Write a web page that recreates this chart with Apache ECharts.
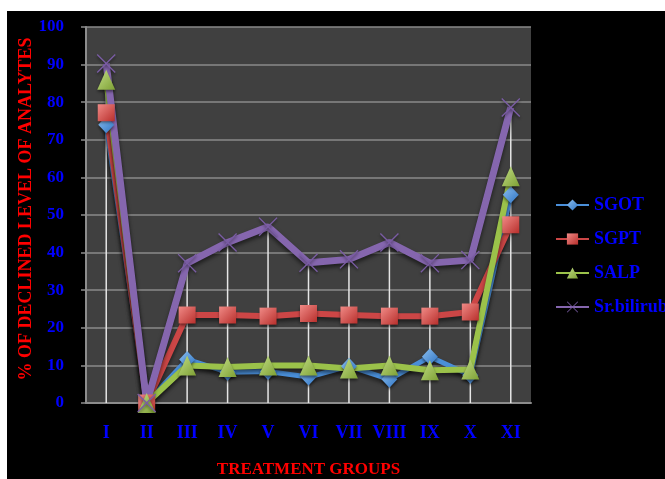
<!DOCTYPE html>
<html>
<head>
<meta charset="utf-8">
<script src="https://cdn.jsdelivr.net/npm/echarts@6/dist/echarts.min.js"></script>
<style>
  html, body { margin: 0; padding: 0; background: #ffffff; }
  #chart { width: 665px; height: 479px; }
</style>
</head>
<body>
<div id="chart"></div>
<script>
// Treatment groups on the x axis
const categories = ['I', 'II', 'III', 'IV', 'V', 'VI', 'VII', 'VIII', 'IX', 'X', 'XI'];

// % of declined level for each analyte
const sgot      = [74.0, 0, 11.6, 8.2, 8.4, 6.9, 9.8, 6.3, 12.3, 7.4, 55.4];
const sgpt      = [77.2, 0, 23.4, 23.4, 23.1, 23.8, 23.4, 23.1, 23.1, 24.2, 47.4];
const salp      = [86.0, 0, 10.0, 9.6, 10.0, 10.0, 9.2, 10.0, 8.7, 8.9, 60.3];
const bilirubin = [90.3, 0, 37.2, 42.7, 46.9, 37.3, 38.2, 42.7, 37.2, 38.0, 78.6];

// Value axis ticks
const yMin = 0, yMax = 100, yStep = 10;

const seriesNames = ['SGOT', 'SGPT', 'SALP', 'Sr.bilirubin'];

// Drop lines run from zero up to the highest analyte in each group
const dropLine = categories.map((_, i) => Math.max(sgot[i], sgpt[i], salp[i], bilirubin[i]));

const serif = '"Liberation Serif", "DejaVu Serif", serif';
const crossPath = 'path://M0,1L1,0L10,9L19,0L20,1L11,10L20,19L19,20L10,11L1,20L0,19L9,10Z';

function grad(light, dark) {
  return new echarts.graphic.LinearGradient(0, 0, 1, 1, [
    { offset: 0, color: light },
    { offset: 1, color: dark }
  ]);
}

function lineSeries(name, data, lineColor, symbol, size, markColor, width) {
  return {
    name: name,
    type: 'line',
    data: data,
    symbol: symbol,
    symbolSize: size,
    z: 3,
    lineStyle: {
      color: lineColor, width: width,
      shadowColor: 'rgba(0,0,0,0.55)', shadowBlur: 4, shadowOffsetY: 3
    },
    itemStyle: {
      color: markColor,
      shadowColor: 'rgba(0,0,0,0.5)', shadowBlur: 3, shadowOffsetY: 2
    }
  };
}

const chart = echarts.init(document.getElementById('chart'));
chart.setOption({
  backgroundColor: '#000000',
  animation: false,
  graphic: [
    { type: 'rect', shape: { x: 0, y: 0, width: 665, height: 11 }, style: { fill: '#ffffff' }, z: 100 },
    { type: 'rect', shape: { x: 0, y: 0, width: 7, height: 479 }, style: { fill: '#ffffff' }, z: 100 }
  ],
  grid: {
    left: 86, right: 134, top: 27, bottom: 76,
    show: true, backgroundColor: '#404040', borderWidth: 0,
    outerBoundsMode: 'none'
  },
  legend: {
    data: seriesNames,
    orient: 'vertical',
    left: 555, top: 196,
    padding: 0,
    itemWidth: 33, itemHeight: 14, itemGap: 16, itemTextGap: 2,
    textStyle: { color: '#0000ff', fontFamily: serif, fontWeight: 'bold', fontSize: 18, lineHeight: 14 }
  },
  xAxis: {
    type: 'category',
    data: categories,
    boundaryGap: true,
    name: 'TREATMENT GROUPS',
    nameLocation: 'middle',
    nameGap: 58,
    nameMoveOverlap: false,
    nameTextStyle: { color: '#ff0000', fontFamily: serif, fontWeight: 'bold', fontSize: 17 },
    axisLine: { lineStyle: { color: '#8c8c8c', width: 2 } },
    axisTick: { show: false },
    axisLabel: { interval: 0, color: '#0000ff', fontFamily: serif, fontWeight: 'bold', fontSize: 18, margin: 21 },
    splitLine: { show: false }
  },
  yAxis: {
    type: 'value',
    min: yMin, max: yMax, interval: yStep,
    name: '% OF DECLINED LEVEL OF ANALYTES',
    nameLocation: 'middle',
    nameGap: 51,
    nameMoveOverlap: false,
    nameTextStyle: { color: '#ff0000', fontFamily: serif, fontWeight: 'bold', fontSize: 18, padding: [0, 0, 0, 12] },
    axisLine: { show: true, lineStyle: { color: '#8c8c8c', width: 2 } },
    axisTick: { show: true, length: 5, lineStyle: { color: '#8c8c8c', width: 1.5 } },
    axisLabel: { color: '#0000ff', fontFamily: serif, fontWeight: 'bold', fontSize: 17, margin: 22 },
    splitLine: { lineStyle: { color: '#8a8a8a', width: 1.5 } }
  },
  series: [
    {
      name: 'drop',
      type: 'bar',
      data: dropLine,
      barWidth: 1.5,
      silent: true,
      z: 1,
      itemStyle: { color: '#e6e6e6' }
    },
    lineSeries('SGOT', sgot, '#4a8fd9', 'diamond', [16, 17], grad('#8cc0f0', '#2f74c4'), 5),
    lineSeries('SGPT', sgpt, '#cc4646', 'rect', 17, grad('#f08a86', '#b82f2c'), 6),
    lineSeries('SALP', salp, '#9bc24a', 'triangle', [18, 20], grad('#c2de86', '#7ea034'), 6),
    lineSeries('Sr.bilirubin', bilirubin, '#8566ae', crossPath, 19, '#7a5ca4', 7)
  ]
});
</script>
</body>
</html>
